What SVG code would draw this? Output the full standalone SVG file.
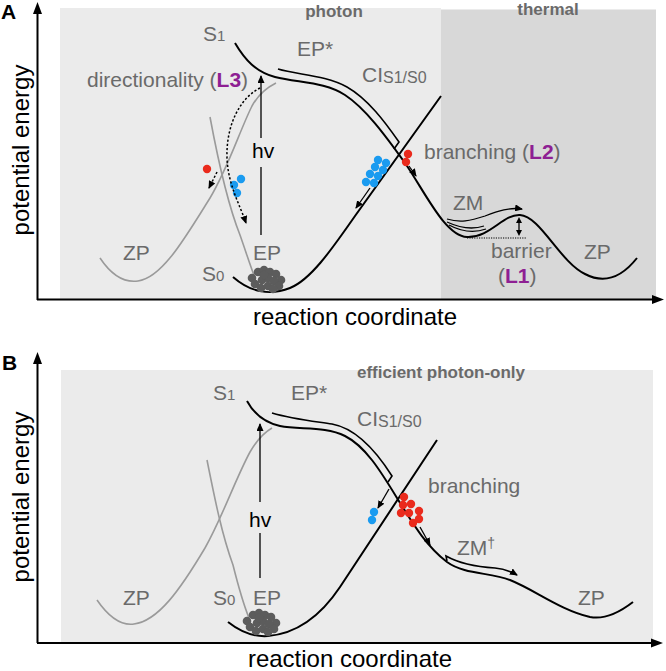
<svg xmlns="http://www.w3.org/2000/svg" width="666" height="671" viewBox="0 0 666 671">
<defs>
<style>
text{font-family:"Liberation Sans",Arial,Helvetica,sans-serif}
.lbl{font-size:21px;fill:#6a6a6a}
.hdr{font-size:17px;font-weight:bold;fill:#6a6a6a}
.ax{font-size:24px;fill:#000}
.pl{font-size:21px;font-weight:bold;fill:#000}
.pur{fill:#8e1f93;font-weight:bold}
.blk{fill:none;stroke:#000;stroke-width:2}
.gry{fill:none;stroke:#9a9a9a;stroke-width:1.6}
.axis{fill:none;stroke:#000;stroke-width:2}
.db{fill:#1a9bf0}
.dr{fill:#ea2a1c}
.dg{fill:#5c5c5c}
.dash{fill:none;stroke:#000;stroke-width:1.5;stroke-dasharray:2.2 2}
.thin{fill:none;stroke:#000;stroke-width:1.3}
.ch{fill:none;stroke:#000;stroke-width:1.6;stroke-linejoin:miter}
</style>
<marker id="axh" markerWidth="12" markerHeight="10" refX="4" refY="5" orient="auto" markerUnits="userSpaceOnUse"><path d="M0,0.5 L12,5 L0,9.5z" fill="#000"/></marker>
<marker id="ah" markerWidth="8" markerHeight="7" refX="7" refY="3.5" orient="auto" markerUnits="userSpaceOnUse"><path d="M0,0 L8,3.5 L0,7z" fill="#000"/></marker>
</defs>

<!-- ===== Panel A ===== -->
<g id="panelA">
  <rect x="60" y="8" width="381" height="292" fill="#ebebeb"/>
  <rect x="441" y="9.5" width="215" height="290.5" fill="#d8d8d8"/>
  <text class="pl" x="1" y="19">A</text>
  <text class="hdr" x="334" y="17" text-anchor="middle">photon</text>
  <text class="hdr" x="548" y="15" text-anchor="middle">thermal</text>
  <text class="ax" transform="translate(29,150) rotate(-90)" text-anchor="middle">potential energy</text>
  <text class="ax" x="355" y="325" text-anchor="middle">reaction coordinate</text>

  <g id="A-axes">
    <path class="axis" d="M37.5,300 V10" marker-end="url(#axh)"/>
    <path class="axis" d="M37,299.5 H656" marker-end="url(#axh)"/>
  </g>

  <g id="A-grey-curves">
    <path class="gry" d="M100,258 C112,276 124,283 138,281 C162,278 185,238 210,198 C228,168 240,130 252,106 C258,95 266,88 276,83"/>
    <path class="gry" d="M210,117 C218,160 228,205 240,235 C246,252 250,265 255,278"/>
  </g>

  <g id="A-S0">
    <path class="blk" d="M233,277 C250,292 270,296 290,288 C310,280 330,252 355,216 L441,96"/>
  </g>
  <g id="A-S1">
    <path class="blk" d="M235,43 C245,60 256,72 275,77 C300,83 325,82 345,95 C365,108 385,135 405,163 C425,192 445,236 467,237 C490,238 503,214 520,215 C540,216 560,262 585,274 C600,282 618,282 637,258"/>
  </g>
  <g id="A-channel-EP">
    <path class="ch" d="M278,69 C298,75 325,75 347,87 C368,99 385,122 399,142 L394,149"/>
  </g>

  <g id="A-labels">
    <text class="lbl" x="203" y="41">S<tspan font-size="15">1</tspan></text>
    <text class="lbl" x="297" y="56">EP*</text>
    <text class="lbl" x="362" y="82">CI<tspan font-size="16" dy="1">S1/S0</tspan></text>
    <text class="lbl" x="87" y="87">directionality <tspan>(</tspan><tspan class="pur">L3</tspan>)</text>
    <text x="252" y="158" font-size="21" fill="#000">hv</text>
    <text class="lbl" x="424" y="159">branching (<tspan class="pur">L2</tspan>)</text>
    <text class="lbl" x="453" y="210" font-size="22">ZM</text>
    <text class="lbl" x="491" y="258">barrier</text>
    <text class="lbl" x="498" y="283">(<tspan class="pur">L1</tspan>)</text>
    <text class="lbl" x="584" y="259" font-size="22">ZP</text>
    <text class="lbl" x="123" y="260" font-size="22">ZP</text>
    <text class="lbl" x="253" y="260">EP</text>
    <text class="lbl" x="202" y="281">S<tspan font-size="15">0</tspan></text>
  </g>

  <g id="A-dots">
    <g class="dg">
      <circle cx="252" cy="278" r="4.3"/><circle cx="258" cy="272" r="4.3"/><circle cx="264" cy="270" r="4.3"/>
      <circle cx="270" cy="272" r="4.3"/><circle cx="276" cy="274" r="4.3"/><circle cx="281" cy="280" r="4.3"/>
      <circle cx="255" cy="284" r="4.3"/><circle cx="262" cy="280" r="4.3"/><circle cx="268" cy="278" r="4.3"/>
      <circle cx="274" cy="281" r="4.3"/><circle cx="279" cy="286" r="4.3"/><circle cx="261" cy="288" r="4.3"/>
      <circle cx="268" cy="286" r="4.3"/><circle cx="273" cy="289" r="4.3"/><circle cx="264" cy="275" r="4.3"/>
    </g>
    <g class="db">
      <circle cx="241" cy="179" r="4.2"/><circle cx="234" cy="185" r="4.2"/><circle cx="237" cy="193" r="4.2"/>
      <circle cx="378" cy="160" r="4.2"/><circle cx="386" cy="163" r="4.2"/><circle cx="375" cy="167" r="4.2"/>
      <circle cx="383" cy="170" r="4.2"/><circle cx="370" cy="174" r="4.2"/><circle cx="378" cy="176" r="4.2"/>
      <circle cx="366" cy="182" r="4.2"/><circle cx="374" cy="183" r="4.2"/>
    </g>
    <g class="dr">
      <circle cx="207" cy="169" r="4.2"/>
      <circle cx="408" cy="154" r="4.2"/><circle cx="406" cy="162" r="4.2"/>
    </g>
  </g>

  <g id="A-connectors">
    <path class="thin" d="M261,235 V167"/>
    <path class="thin" d="M261,138 V76" marker-end="url(#ah)"/>
    <path class="dash" d="M260,88 C240,98 226,125 227,158 C228,185 240,205 246,223" marker-end="url(#ah)"/>
    <path class="dash" d="M217,172 L209,188" marker-end="url(#ah)"/>
    <path class="thin" d="M370,188 L356,208" marker-end="url(#ah)"/>
    <path class="thin" d="M409,166 L416,176" marker-end="url(#ah)"/>
    <path class="thin" d="M447,219 C460,223 470,221 485,216 C498,211 510,207 522,209" marker-end="url(#ah)"/>
    <path class="thin" d="M447,222 C460,228 472,230 484,226"/>
    <path class="thin" d="M449,225 C462,232 475,233 486,229"/>
    <path fill="none" stroke="#000" stroke-width="1.2" stroke-dasharray="1.2 1.2" d="M467,238 H527"/>
    <path d="M519,217 L516,223 L522,223z M519,236 L516,230 L522,230z" fill="#000"/>
    <path class="thin" d="M519,222 V231"/>
  </g>
</g>

<!-- ===== Panel B ===== -->
<g id="panelB">
  <rect x="61" y="370" width="592" height="273" fill="#ebebeb"/>
  <text class="pl" x="2" y="370">B</text>
  <text class="hdr" x="441" y="378" text-anchor="middle">efficient photon-only</text>
  <text class="ax" transform="translate(29,497) rotate(-90)" text-anchor="middle">potential energy</text>
  <text class="ax" x="350" y="667" text-anchor="middle">reaction coordinate</text>

  <g id="B-axes">
    <path class="axis" d="M37.5,643 V360" marker-end="url(#axh)"/>
    <path class="axis" d="M37,643 H655" marker-end="url(#axh)"/>
  </g>

  <g id="B-grey-curves">
    <path class="gry" d="M97,600 C108,616 120,626 134,624 C158,621 180,590 205,548 C222,518 235,480 250,452 C257,440 265,432 272,428"/>
    <path class="gry" d="M207,460 C215,500 222,535 233,565 C238,585 243,603 249,618"/>
  </g>

  <g id="B-S0">
    <path class="blk" d="M228,622 C242,633 255,637 268,636 C292,634 318,620 340,587 L437,440"/>
  </g>
  <g id="B-S1">
    <path class="blk" d="M247,401 C253,412 262,422 280,426 C300,430 325,426 345,436 C365,446 380,470 397,498 C412,522 425,545 447,562 C465,575 490,572 510,580 C535,590 560,610 590,617 C605,620 620,612 633,602"/>
  </g>
  <g id="B-channels">
    <path class="ch" d="M272,413 C292,419 312,421 332,424 C354,428 373,446 392,476 L388,482"/>
    <path class="ch" d="M447,561 L446,556 C462,565 480,567 495,568 C505,569 512,572 517,575" marker-end="url(#ah)"/>
  </g>

  <g id="B-labels">
    <text class="lbl" x="213" y="400">S<tspan font-size="15">1</tspan></text>
    <text class="lbl" x="291" y="400">EP*</text>
    <text class="lbl" x="357" y="426">CI<tspan font-size="16" dy="1">S1/S0</tspan></text>
    <text x="249" y="527" font-size="21" fill="#000">hv</text>
    <text class="lbl" x="428" y="493">branching</text>
    <text class="lbl" x="457" y="555" font-size="22">ZM<tspan font-size="14" dy="-7">†</tspan></text>
    <text class="lbl" x="578" y="605" font-size="22">ZP</text>
    <text class="lbl" x="123" y="605" font-size="22">ZP</text>
    <text class="lbl" x="213" y="605">S<tspan font-size="15">0</tspan></text>
    <text class="lbl" x="253" y="605">EP</text>
  </g>

  <g id="B-dots">
    <g class="dg">
      <circle cx="247" cy="621" r="4.3"/><circle cx="253" cy="615" r="4.3"/><circle cx="259" cy="613" r="4.3"/>
      <circle cx="265" cy="615" r="4.3"/><circle cx="271" cy="617" r="4.3"/><circle cx="276" cy="623" r="4.3"/>
      <circle cx="250" cy="627" r="4.3"/><circle cx="257" cy="623" r="4.3"/><circle cx="263" cy="621" r="4.3"/>
      <circle cx="269" cy="624" r="4.3"/><circle cx="274" cy="629" r="4.3"/><circle cx="256" cy="631" r="4.3"/>
      <circle cx="263" cy="629" r="4.3"/><circle cx="268" cy="632" r="4.3"/><circle cx="259" cy="618" r="4.3"/>
    </g>
    <g class="db">
      <circle cx="374" cy="512" r="4.2"/><circle cx="372" cy="520" r="4.2"/>
    </g>
    <g class="dr">
      <circle cx="404" cy="497" r="4.2"/><circle cx="411" cy="504" r="4.2"/><circle cx="403" cy="505" r="4.2"/>
      <circle cx="401" cy="513" r="4.2"/><circle cx="409" cy="513" r="4.2"/><circle cx="419" cy="511" r="4.2"/>
      <circle cx="419" cy="519" r="4.2"/><circle cx="413" cy="523" r="4.2"/>
    </g>
  </g>

  <g id="B-connectors">
    <path class="thin" d="M260,578 V533"/>
    <path class="thin" d="M260,502 V424" marker-end="url(#ah)"/>
    <path class="thin" d="M389,489 L378,508" marker-end="url(#ah)"/>
    <path class="thin" d="M420,527 L430,545" marker-end="url(#ah)"/>
  </g>
</g>
</svg>
